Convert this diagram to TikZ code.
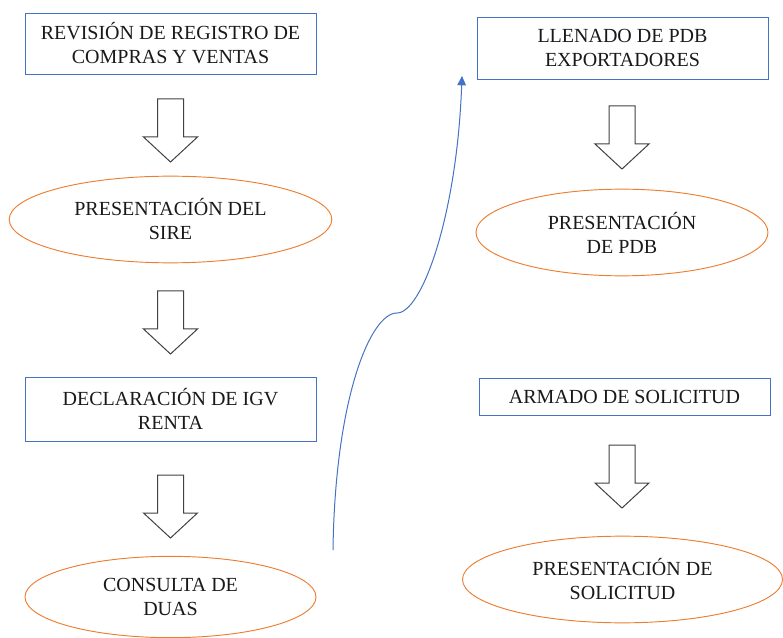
\documentclass[tikz,border=0pt]{standalone}
\usepackage{fontspec}
\setmainfont{Liberation Serif}
\usetikzlibrary{shapes.geometric,arrows.meta}
\definecolor{boxblue}{HTML}{4472C4}
\definecolor{ovalorange}{HTML}{ED7D31}
\tikzset{
  hollowarrow/.pic={
    \draw[line width=0.75pt,draw=black!75,line join=miter]
      (-13,0) -- (13,0) -- (13,38) -- (27,38) -- (0,63) -- (-27,38) -- (-13,38) -- cycle;
  }
}
\begin{document}
\begin{tikzpicture}[x=0.75pt,y=-0.75pt,
  txt/.style={align=center,inner sep=0pt,text=black!90,font=\fontsize{15}{18}\selectfont},
  stepbox/.style={txt,rectangle,draw=boxblue,line width=0.7pt,minimum width=218.25pt},
  oval/.style={txt,ellipse,draw=ovalorange,line width=0.7pt}
]
  \useasboundingbox (0,0) rectangle (783,638);

  \node (rev) [stepbox,minimum height=45.75pt] at (170.5,43.5)
    {REVISIÓN DE REGISTRO DE\\COMPRAS Y VENTAS};
  \node (sire) [oval,minimum width=242pt,minimum height=65pt] at (170.5,219.5)
    {PRESENTACIÓN DEL\\SIRE};
  \node (igv) [stepbox,minimum height=48pt] at (170.5,409)
    {DECLARACIÓN DE IGV\\RENTA};
  \node (duas) [oval,minimum width=218.25pt,minimum height=61pt] at (170.5,597)
    {CONSULTA DE\\DUAS};

  \node (pdb) [stepbox,minimum height=46.5pt] at (622.5,48)
    {LLENADO DE PDB\\EXPORTADORES};
  \node (prespdb) [oval,minimum width=219pt,minimum height=65pt] at (622,232.5)
    {PRESENTACIÓN\\DE PDB};
  \node (armado) [stepbox,minimum height=27.75pt] at (624.5,396.5)
    {ARMADO DE SOLICITUD};
  \node (solic) [oval,minimum width=240pt,minimum height=65pt] at (622.5,579.5)
    {PRESENTACIÓN DE\\SOLICITUD};

  \pic at (170.5,99) {hollowarrow};
  \pic at (170.5,291) {hollowarrow};
  \pic at (170.5,475) {hollowarrow};
  \pic at (622,106) {hollowarrow};
  \pic at (622,445) {hollowarrow};

  \coordinate (cstart) at (333,550);
  \coordinate (cbend) at (397,313);
  \coordinate (cend) at (462,76);
  \draw[boxblue,line width=0.75pt,-{Triangle[length=7pt,width=6.5pt]}]
    (cstart) .. controls (335,400) and (370,313) .. (cbend)
             .. controls (422,313) and (457,215) .. (cend);
\end{tikzpicture}
\end{document}
